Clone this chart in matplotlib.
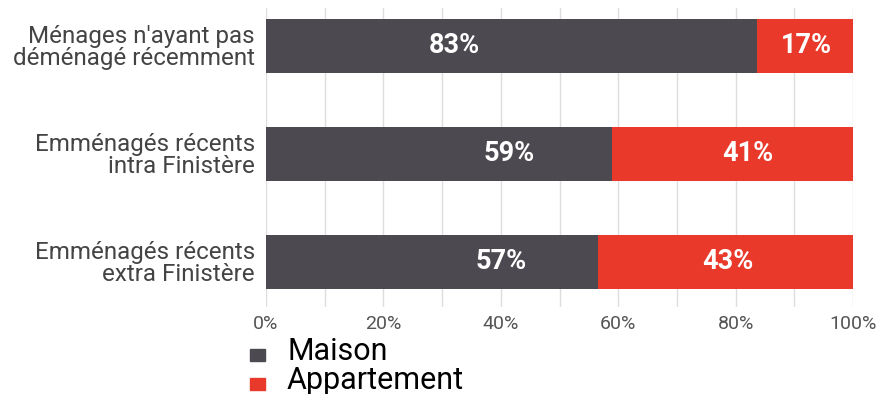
import numpy as np
import matplotlib.pyplot as plt
from matplotlib.patches import Rectangle

plt.rcParams['font.family'] = ['Roboto', 'DejaVu Sans']

categories = ["Ménages n'ayant pas\ndéménagé récemment",
              "Emménagés récents\nintra Finistère",
              "Emménagés récents\nextra Finistère"]
maison = [83.6, 59.0, 56.5]
appartement = [16.4, 41.0, 43.5]
maison_lbl = ["83%", "59%", "57%"]
appart_lbl = ["17%", "41%", "43%"]
series_names = ["Maison", "Appartement"]
c_maison = "#4d4950"
c_appart = "#e8392a"

# where the value labels sit in the reference (in % along the bar)
maison_lbl_x = [32.1, 41.5, 40.0]
appart_lbl_x = [92.0, 82.0, 78.6]

fig = plt.figure(figsize=(8.86, 3.94), dpi=100)
ax = fig.add_axes([0.3002, 0.2208, 0.6626, 0.7589])

y = np.arange(len(categories))
ax.barh(y, maison, height=0.5, color=c_maison, zorder=3)
ax.barh(y, appartement, left=maison, height=0.5, color=c_appart, zorder=3)

for i in range(len(categories)):
    ax.text(maison_lbl_x[i], y[i], maison_lbl[i], ha='center', va='center',
            color='white', fontsize=19.5, fontweight='bold', zorder=4)
    ax.text(appart_lbl_x[i], y[i], appart_lbl[i], ha='center', va='center',
            color='white', fontsize=19.5, fontweight='bold', zorder=4)

ax.set_xlim(0, 100)
ax.set_ylim(2.42, -0.35)
ax.set_xticks(np.arange(0, 101, 20))
ax.set_xticks(np.arange(0, 101, 10), minor=True)
ax.set_xticklabels([f"{v}%" for v in range(0, 101, 20)], color='#555555', fontsize=14)
ax.set_yticks(y)
ax.set_yticklabels(categories, fontsize=17.4, color='#444444', linespacing=0.95)
ax.grid(axis='x', which='both', color='#dddddd', linewidth=1, zorder=0)
ax.tick_params(axis='both', which='both', length=0)
ax.tick_params(axis='y', pad=8)
ax.tick_params(axis='x', pad=6)
for s in ax.spines.values():
    s.set_visible(False)

# legend drawn by hand under the axis
leg_colors = [c_maison, c_appart]
leg_base = [0.0863, 0.0127]
for name, col, yb in zip(series_names, leg_colors, leg_base):
    fig.add_artist(Rectangle((0.2822, yb - 0.003), 0.0169, 0.0305,
                             transform=fig.transFigure, color=col))
    fig.text(0.324, yb, name, fontsize=22, color='black', va='baseline', ha='left')

fig.savefig('out.png', dpi=100)
